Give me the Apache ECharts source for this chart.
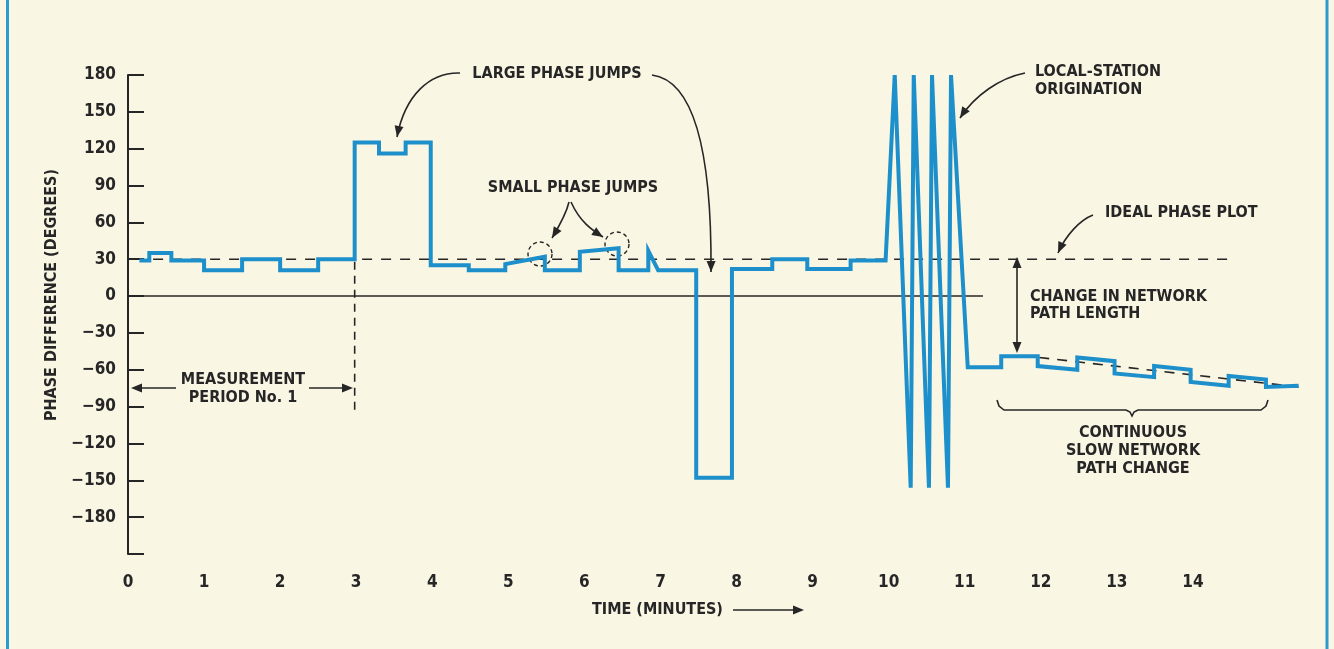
<!DOCTYPE html>
<html>
<head>
<meta charset="utf-8">
<title>Phase difference vs time</title>
<script src="https://cdn.jsdelivr.net/npm/echarts@6/dist/echarts.min.js"></script>
<style>
  html, body { margin: 0; padding: 0; background: #faf6e4; }
  #chart { width: 1334px; height: 649px; }
</style>
</head>
<body>
<div id="chart"></div>
<script>
// axis ticks
const xTicks = [0, 1, 2, 3, 4, 5, 6, 7, 8, 9, 10, 11, 12, 13, 14]
const yTicks = [-180, -150, -120, -90, -60, -30, 0, 30, 60, 90, 120, 150, 180]

// measured phase trace (minutes, degrees)
const traceT = [
  0.15, 0.28, 0.28, 0.57, 0.57, 1.0, 1.0, 1.5, 1.5, 2.0, 2.0, 2.5, 2.5, 2.98,
  2.98, 3.3, 3.3, 3.65, 3.65, 3.98, 3.98, 4.48, 4.48, 4.96, 4.96, 5.48, 5.48,
  5.94, 5.94, 6.45, 6.45, 6.84, 6.84, 6.97, 7.47, 7.47, 7.94, 7.94, 8.47, 8.47,
  8.93, 8.93, 9.5, 9.5, 9.96,
  10.08, 10.29, 10.33, 10.53, 10.57, 10.78, 10.82, 11.04,
  11.48, 11.48, 11.96, 11.96, 12.48, 12.48, 12.97, 12.97, 13.49, 13.49,
  13.97, 13.97, 14.47, 14.47, 14.96, 14.96, 15.39
]
const traceDeg = [
  29, 29, 35, 35, 29, 29, 21, 21, 30, 30, 21, 21, 30, 30,
  125, 125, 116, 116, 125, 125, 25, 25, 21, 21, 26, 32, 21,
  21, 36, 39, 21, 21, 37, 21, 21, -148, -148, 22, 22, 30,
  30, 22, 22, 29, 29,
  180, -156, 180, -156, 180, -156, 180, -58,
  -58, -49, -49, -57, -60, -50, -53, -63, -66, -57,
  -60, -70, -73, -65, -68, -74, -73
]

// ideal phase plot, zero line, slow drift line, period marker
const idealT = [0.33, 14.46]
const idealDeg = [30, 30]
const zeroT = [0, 11.24]
const zeroDeg = [0, 0]
const driftT = [11.98, 15.39]
const driftDeg = [-50, -74]
const periodT = [2.98, 2.98]
const periodDeg = [28, -95]

const pairs = (xs, ys) => xs.map((x, i) => [x, ys[i]])

const FONT = "'Liberation Sans Narrow', 'DejaVu Sans Condensed', sans-serif"
const INK = '#262626'
const BLUE = '#1d8fcb'

const chart = echarts.init(document.getElementById('chart'))

// arrow head polygon pointing along (dx, dy) with tip at (x, y)
const head = (x, y, dx, dy) => {
  const l = Math.hypot(dx, dy)
  const ux = dx / l, uy = dy / l
  const len = 11, w = 4.5
  return {
    type: 'polygon',
    shape: { points: [[x, y], [x - ux * len - uy * w, y - uy * len + ux * w], [x - ux * len + uy * w, y - uy * len - ux * w]] },
    style: { fill: INK }
  }
}

const curveArrow = (x1, y1, c1x, c1y, c2x, c2y, x2, y2) => [
  {
    type: 'bezierCurve',
    shape: { x1, y1, cpx1: c1x, cpy1: c1y, cpx2: c2x, cpy2: c2y, x2, y2 },
    style: { stroke: INK, lineWidth: 1.6, fill: null }
  },
  head(x2, y2, x2 - c2x, y2 - c2y)
]

const line = (x1, y1, x2, y2, extra) => ({
  type: 'line',
  shape: { x1, y1, x2, y2 },
  style: Object.assign({ stroke: INK, lineWidth: 1.6 }, extra || {})
})

const label = (text, x, y, align) => ({
  type: 'text',
  x, y,
  style: { text, font: 'bold 16px ' + FONT, fill: INK, align: align || 'center', verticalAlign: 'middle' }
})

const graphics = [
  // page frame
  line(7.5, 0, 7.5, 649, { stroke: '#2b9bd0', lineWidth: 3 }),
  line(1327, 0, 1327, 649, { stroke: '#2b9bd0', lineWidth: 3 }),

  // axis titles
  {
    type: 'text', x: 52, y: 295, rotation: Math.PI / 2,
    style: { text: 'PHASE DIFFERENCE (DEGREES)', font: 'bold 16px ' + FONT, fill: INK, align: 'center', verticalAlign: 'middle' }
  },
  label('TIME (MINUTES)', 592, 610, 'left'),
  line(733, 610, 795, 610),
  head(804, 610, 1, 0),

  // measurement period
  label('MEASUREMENT', 243, 380),
  label('PERIOD No. 1', 243, 398),
  line(140, 388, 176, 388),
  head(131, 388, -1, 0),
  line(309, 388, 344, 388),
  head(353, 388, 1, 0),

  // large phase jumps
  label('LARGE PHASE JUMPS', 557, 74),
  ...curveArrow(460, 73, 430, 72, 405, 95, 397, 137),
  ...curveArrow(652, 75, 690, 80, 712, 140, 711, 272),

  // small phase jumps
  label('SMALL PHASE JUMPS', 573, 188),
  ...curveArrow(569, 202, 566, 215, 558, 228, 552, 238),
  ...curveArrow(571, 202, 580, 222, 592, 230, 603, 237),
  { type: 'circle', shape: { cx: 540, cy: 254, r: 12 }, style: { fill: null, stroke: INK, lineWidth: 1.4, lineDash: [4, 3] } },
  { type: 'circle', shape: { cx: 617, cy: 244, r: 12 }, style: { fill: null, stroke: INK, lineWidth: 1.4, lineDash: [4, 3] } },

  // local-station origination
  label('LOCAL-STATION', 1035, 72, 'left'),
  label('ORIGINATION', 1035, 90, 'left'),
  ...curveArrow(1025, 73, 1000, 78, 975, 95, 960, 118),

  // ideal phase plot
  label('IDEAL PHASE PLOT', 1105, 213, 'left'),
  ...curveArrow(1093, 215, 1080, 220, 1066, 235, 1058, 253),

  // change in network path length
  label('CHANGE IN NETWORK', 1030, 297, 'left'),
  label('PATH LENGTH', 1030, 314, 'left'),
  line(1017, 266, 1017, 344),
  head(1017, 257, 0, -1),
  head(1017, 353, 0, 1),

  // continuous slow change
  {
    type: 'polyline',
    shape: { points: [[997, 400], [999, 406], [1004, 410], [1126, 410], [1130, 412], [1132, 416], [1134, 412], [1138, 410], [1261, 410], [1266, 406], [1268, 400]] },
    style: { stroke: INK, lineWidth: 1.6, fill: null }
  },
  label('CONTINUOUS', 1133, 433),
  label('SLOW NETWORK', 1133, 451),
  label('PATH CHANGE', 1133, 469)
]

const option = {
  backgroundColor: '#faf6e4',
  animation: false,
  grid: { left: 128, right: 27, top: 75, bottom: 95 },
  xAxis: {
    type: 'value',
    min: 0,
    max: 15.5,
    interval: 1,
    axisLine: { show: false },
    axisTick: { show: false },
    splitLine: { show: false },
    axisLabel: {
      margin: 20,
      color: INK,
      fontFamily: FONT,
      fontWeight: 'bold',
      fontSize: 17,
      formatter: v => (xTicks.includes(v) ? String(v) : '')
    }
  },
  yAxis: {
    type: 'value',
    min: -210,
    max: 180,
    interval: 30,
    axisLine: { show: true, onZero: false, lineStyle: { color: INK, width: 2 } },
    axisTick: { show: true, inside: true, length: 16, lineStyle: { color: INK, width: 2 } },
    splitLine: { show: false },
    axisLabel: {
      margin: 12,
      color: INK,
      fontFamily: FONT,
      fontWeight: 'bold',
      fontSize: 17,
      formatter: v => (yTicks.includes(v) ? (v < 0 ? '\u2212' + Math.abs(v) : String(v)) : '')
    }
  },
  series: [
    {
      name: 'zero',
      type: 'line',
      data: pairs(zeroT, zeroDeg),
      showSymbol: false,
      lineStyle: { color: INK, width: 1.5 },
      silent: true
    },
    {
      name: 'ideal',
      type: 'line',
      data: pairs(idealT, idealDeg),
      showSymbol: false,
      lineStyle: { color: INK, width: 1.6, type: [10, 9] },
      silent: true
    },
    {
      name: 'period',
      type: 'line',
      data: pairs(periodT, periodDeg),
      showSymbol: false,
      lineStyle: { color: INK, width: 1.6, type: [8, 6] },
      silent: true
    },
    {
      name: 'drift',
      type: 'line',
      data: pairs(driftT, driftDeg),
      showSymbol: false,
      lineStyle: { color: INK, width: 1.6, type: [10, 8] },
      silent: true
    },
    {
      name: 'phase',
      type: 'line',
      data: pairs(traceT, traceDeg),
      showSymbol: false,
      clip: false,
      lineStyle: { color: BLUE, width: 4, join: 'miter' },
      z: 5
    }
  ],
  graphic: graphics
}

chart.setOption(option)
</script>
</body>
</html>
